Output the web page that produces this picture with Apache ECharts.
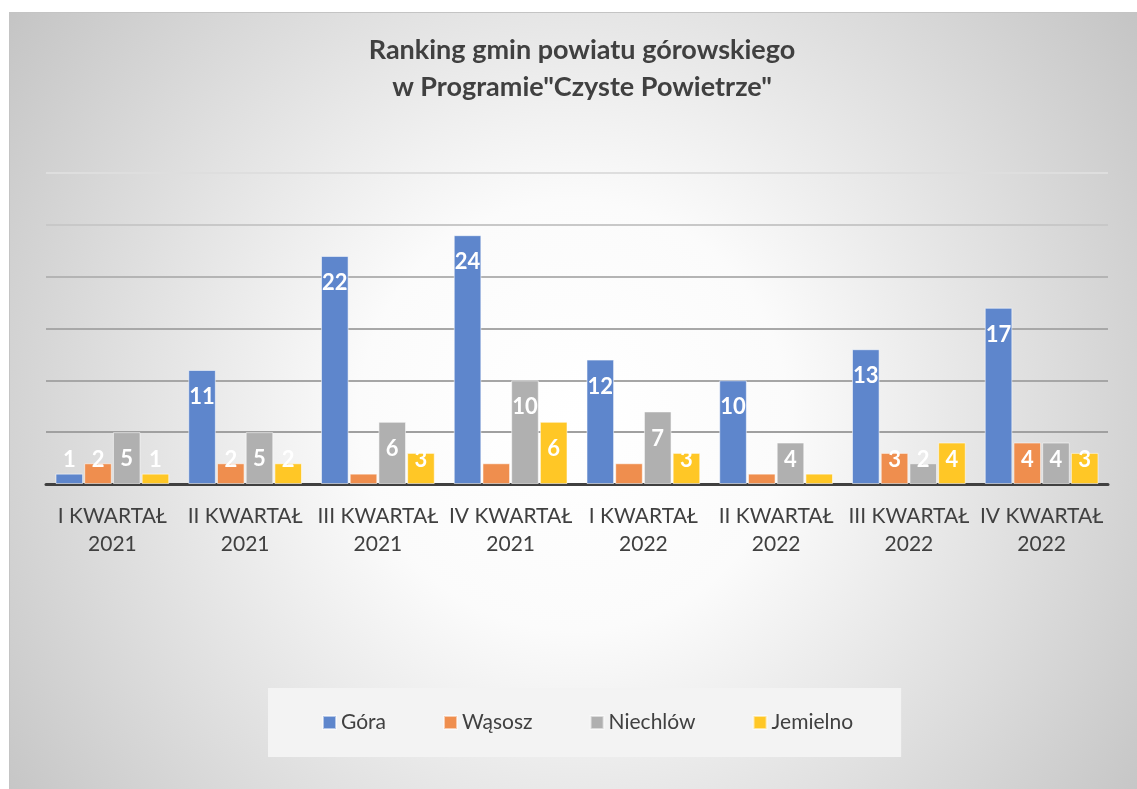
<!DOCTYPE html>
<html>
<head>
<meta charset="utf-8">
<script src="https://cdn.jsdelivr.net/npm/echarts@6/dist/echarts.min.js"></script>
<style>
  html, body { margin: 0; padding: 0; background: #ffffff; }
  #chart { position: absolute; left: 9px; top: 12px; width: 1128px; height: 777px;
           border-top: 1px solid #c4c4c4; border-left: 1px solid #c4c4c4; box-sizing: border-box; }
</style>
</head>
<body>
<div id="chart"></div>
<script>
// ---- data ----
const categories = ['I KWARTAŁ\n2021', 'II KWARTAŁ\n2021', 'III KWARTAŁ\n2021', 'IV KWARTAŁ\n2021',
                    'I KWARTAŁ\n2022', 'II KWARTAŁ\n2022', 'III KWARTAŁ\n2022', 'IV KWARTAŁ\n2022'];
const seriesNames = ['Góra', 'Wąsosz', 'Niechlów', 'Jemielno'];
const gora     = [1, 11, 22, 24, 12, 10, 13, 17];
const wasosz   = [2, 2, 1, 2, 2, 1, 3, 4];
const niechlow = [5, 5, 6, 10, 7, 4, 2, 4];
const jemielno = [1, 2, 3, 6, 3, 1, 4, 3];
const yTicks = [0, 5, 10, 15, 20, 25, 30];

// labels not drawn in the original (seriesIndex, categoryIndex)
const hiddenLabels = [[1, 2], [1, 3], [1, 4], [1, 5], [3, 5]];

const colors = ['#5E86CC', '#EF8E4E', '#B0B0B0', '#FFC726'];
const values = [gora, wasosz, niechlow, jemielno];
const FONT = 'Lato, "Open Sans", sans-serif';

function buildData(si) {
  return values[si].map((v, ci) => {
    const hidden = hiddenLabels.some(p => p[0] === si && p[1] === ci);
    const shortBar = v < 4.9;
    return {
      value: v,
      label: {
        show: !hidden,
        position: shortBar ? 'insideBottom' : 'insideTop',
        distance: shortBar ? 13 : 16
      }
    };
  });
}

const chart = echarts.init(document.getElementById('chart'));
chart.setOption({
  backgroundColor: {
    type: 'radial', x: 0.5, y: 0.52, r: 0.92,
    colorStops: [
      { offset: 0, color: '#ffffff' },
      { offset: 0.3, color: '#fbfbfb' },
      { offset: 1, color: '#c2c2c2' }
    ]
  },
  textStyle: { fontFamily: FONT },
  title: {
    text: 'Ranking gmin powiatu górowskiego\nw Programie"Czyste Powietrze"',
    left: 567, top: 14, textAlign: 'center',
    textStyle: { fontFamily: FONT, fontSize: 27, fontWeight: 'bold', color: '#404040', lineHeight: 37 }
  },
  legend: {
    data: seriesNames,
    left: 258, top: 675,
    padding: [24, 48, 24, 54],
    backgroundColor: '#f3f3f3',
    itemWidth: 13, itemHeight: 13, itemGap: 57,
    icon: 'rect',
    textStyle: { fontFamily: FONT, fontSize: 21, color: '#404040', padding: [0, 0, 0, 0] }
  },
  grid: { left: 36, right: 29, top: 160, bottom: 305, containLabel: false },
  xAxis: {
    type: 'category',
    data: categories,
    axisLine: { show: true, lineStyle: { color: '#404040', width: 3 } },
    axisTick: { show: false },
    axisLabel: { color: '#404040', fontFamily: FONT, fontSize: 21, lineHeight: 28, margin: 18, interval: 0 }
  },
  yAxis: {
    type: 'value', min: yTicks[0], max: yTicks[yTicks.length - 1], interval: 5,
    axisLabel: { show: false }, axisLine: { show: false }, axisTick: { show: false },
    splitLine: { lineStyle: { width: 2, color: ['#a0a0a0', '#a0a0a0', '#a6a6a6', '#a8a8a8', '#b4b4b4', '#c8c8c8', '#dedede'] } }
  },
  series: seriesNames.map((name, si) => ({
    name: name,
    type: 'bar',
    data: buildData(si),
    barGap: '4%',
    barCategoryGap: '14.3%',
    itemStyle: { color: colors[si], borderColor: 'rgba(255,255,255,0.55)', borderWidth: 1 },
    label: { show: true, color: '#ffffff', fontFamily: FONT, fontSize: 22, fontWeight: 'bold' },
    emphasis: { disabled: true },
    animation: false
  }))
});
</script>
</body>
</html>
